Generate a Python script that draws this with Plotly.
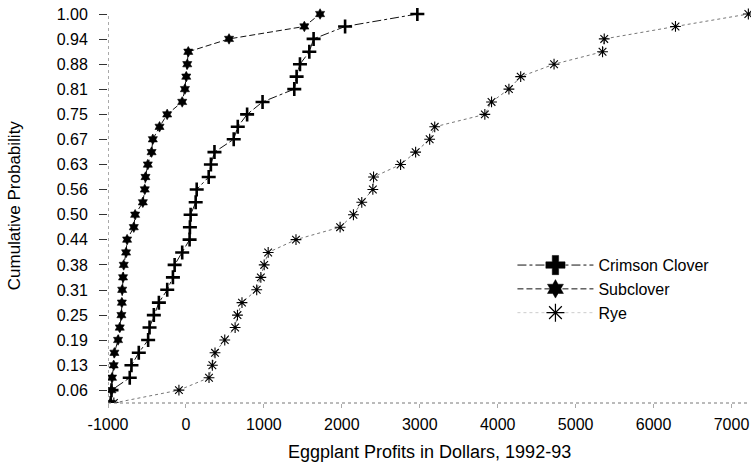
import plotly.graph_objects as go

# Cumulative probability levels (k/32)
prob = [0.031, 0.063, 0.094, 0.125, 0.156, 0.188, 0.219, 0.25,
        0.281, 0.313, 0.344, 0.375, 0.406, 0.438, 0.469, 0.5,
        0.531, 0.563, 0.594, 0.625, 0.656, 0.688, 0.719, 0.75,
        0.781, 0.813, 0.844, 0.875, 0.906, 0.938, 0.969, 1.0]

crimson_clover = [-965, -955, -721, -699, -605, -485, -467, -412,
                  -347, -240, -167, -145, -48, 47, 51, 60,
                  125, 138, 292, 320, 366, 613, 665, 785,
                  983, 1390, 1420, 1463, 1583, 1638, 2042, 2969]

subclover = [-965, -956, -948, -927, -918, -871, -849, -828,
             -822, -818, -807, -798, -768, -755, -669, -652,
             -553, -528, -519, -489, -441, -425, -339, -241,
             -48, -13, 4, 17, 30, 553, 1519, 1721]

rye = [-925, -90, 296, 339, 373, 498, 631, 661,
       719, 908, 961, 1004, 1055, 1412, 1978, 2149,
       2256, 2398, 2407, 2754, 2947, 3127, 3192, 3835,
       3921, 4144, 4295, 4723, 5345, 5367, 6281, 7216]

y_tickvals = [0.0625, 0.125, 0.1875, 0.25, 0.3125, 0.375, 0.4375, 0.5,
              0.5625, 0.625, 0.6875, 0.75, 0.8125, 0.875, 0.9375, 1.0]
y_ticktext = ["0.06", "0.13", "0.19", "0.25", "0.31", "0.38", "0.44", "0.50",
              "0.56", "0.63", "0.67", "0.75", "0.81", "0.88", "0.94", "1.00"]
x_tickvals = [-1000, 0, 1000, 2000, 3000, 4000, 5000, 6000, 7000]
x_ticktext = ["-1000", "0", "1000", "2000", "3000", "4000", "5000", "6000", "7000"]

FONT = "Liberation Sans, Arial, sans-serif"

# name, values, dash, plot symbol, plot size, legend symbol, legend size, line colour
series = [
    ("Crimson Clover", crimson_clover, "dashdot", "cross-thin-open", 10, "cross", 16, "#111"),
    ("Subclover", subclover, "6px,3px", "hexagram", 8, "hexagram", 14, "#111"),
    ("Rye", rye, "dot", "asterisk-open", 9, "asterisk-open", 15, "#777"),
]

fig = go.Figure()
for name, xs, dash, sym, msize, lsym, lsize, lcol in series:
    if sym == "cross-thin-open":
        mlw = 2.6
    elif sym.endswith("open"):
        mlw = 1.1
    else:
        mlw = 0.6
    fig.add_trace(go.Scatter(
        x=xs, y=prob, mode="lines+markers", name=name, showlegend=False,
        line=dict(color=lcol, width=1, dash=dash),
        marker=dict(symbol=sym, size=msize, color="black",
                    line=dict(color="black", width=mlw)),
    ))
# legend entries (no data)
for name, xs, dash, sym, msize, lsym, lsize, lcol in series:
    open_sym = lsym.endswith("open")
    fig.add_trace(go.Scatter(
        x=[None], y=[None], mode="lines+markers", name=name,
        line=dict(color=lcol if name != "Rye" else "#ccc", width=1, dash=dash),
        marker=dict(symbol=lsym, size=lsize, color="black",
                    line=dict(color="black", width=1.2 if open_sym else 0.5)),
    ))

fig.update_layout(
    width=755, height=474,
    margin=dict(l=108, r=4, t=8, b=71, autoexpand=False),
    paper_bgcolor="white", plot_bgcolor="white",
    font=dict(family=FONT, size=16, color="black"),
    showlegend=True,
    legend=dict(x=0.629, y=0.392, xanchor="left", yanchor="top",
                bgcolor="rgba(0,0,0,0)", borderwidth=0,
                font=dict(size=16), itemwidth=76, tracegroupgap=0),
    xaxis=dict(range=[-1000, 7250], tickvals=x_tickvals, ticktext=x_ticktext,
               showgrid=False, zeroline=False, showline=False,
               ticks="outside", ticklen=4, tickcolor="#aaa",
               tickfont=dict(size=16), automargin=False,
               ticklabelstandoff=3, ticklabeloverflow="allow"),
    yaxis=dict(range=[0.031, 1.015], tickvals=y_tickvals, ticktext=y_ticktext,
               showgrid=False, zeroline=False, showline=False,
               ticks="outside", ticklen=8, tickcolor="#333",
               tickfont=dict(size=16), ticklabelstandoff=8, automargin=False),
    shapes=[
        dict(type="line", xref="x", yref="y", x0=-1000, x1=-1000, y0=0.031, y1=1.0,
             line=dict(color="#555", width=1, dash="dot")),
        dict(type="line", xref="x", yref="paper", x0=-1000, x1=7200, y0=0, y1=0,
             line=dict(color="#777", width=1, dash="dot")),
    ],
    annotations=[
        dict(text="Cumulative Probability", xref="paper", yref="paper",
             x=-0.145, y=0.5, xanchor="center", yanchor="middle",
             textangle=-90, showarrow=False, font=dict(size=17)),
        dict(text="Eggplant Profits in Dollars, 1992-93", xref="paper", yref="paper",
             x=0.5, y=-0.124, xanchor="center", yanchor="middle",
             showarrow=False, font=dict(size=18)),
    ],
)

fig.write_html("out.html", config={"displayModeBar": False},
               post_script="document.body.style.margin='0';")
